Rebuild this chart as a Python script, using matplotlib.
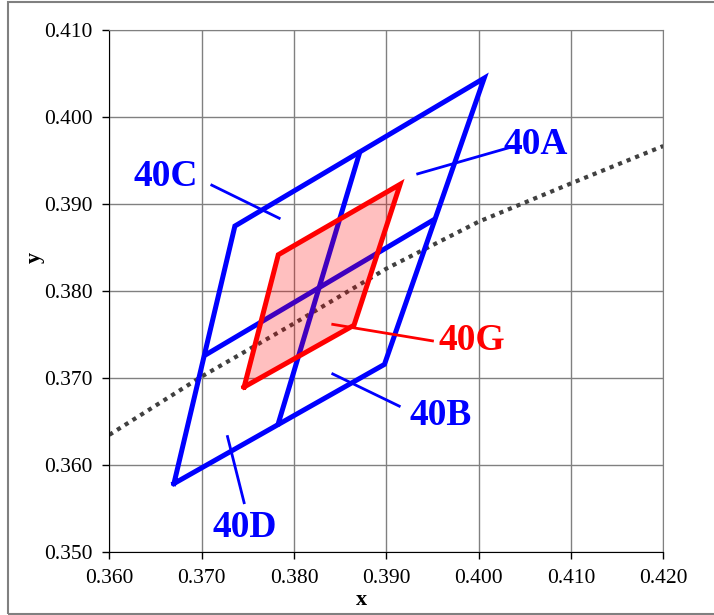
import matplotlib
matplotlib.use('Agg')
import matplotlib.pyplot as plt
import matplotlib.patches as mpatch
import numpy as np

plt.rcParams['font.family'] = ['Liberation Serif', 'DejaVu Serif']

# outer corners of the 40A..40D region (BL, BR, TR, TL)
outer_x = [0.3670, 0.3898, 0.4006, 0.3736]
outer_y = [0.3579, 0.3716, 0.4045, 0.3875]
# inner dividing lines
mid_v_x = [0.3783, 0.3871]
mid_v_y = [0.3648, 0.3959]
mid_h_x = [0.3706, 0.3951]
mid_h_y = [0.3728, 0.3882]

# 40G
red_x = [0.3746, 0.3865, 0.3915, 0.3783]
red_y = [0.3690, 0.3761, 0.3923, 0.3842]

# dotted curve
locus_x = [0.360, 0.370, 0.380, 0.390, 0.400, 0.410, 0.420]
locus_y = [0.3635, 0.3702, 0.3763, 0.3826, 0.3880, 0.3924, 0.3967]

# labels: name, text pos, leader start, leader end, colour
labels = [
    ('40C', (0.3661, 0.3932), (0.3711, 0.3922), (0.3784, 0.3884), 'blue'),
    ('40A', (0.4062, 0.3969), (0.3934, 0.3935), (0.4036, 0.3966), 'blue'),
    ('40G', (0.3993, 0.3743), (0.3842, 0.3762), (0.3950, 0.3743), 'red'),
    ('40B', (0.3959, 0.3657), (0.3842, 0.3705), (0.3914, 0.3668), 'blue'),
    ('40D', (0.3747, 0.3529), (0.3728, 0.3633), (0.3746, 0.3557), 'blue'),
]

fig = plt.figure(figsize=(7.14, 6.15), dpi=100)
ax = fig.add_axes([0.1531, 0.102, 0.7759, 0.8487])

# figure frame
fig.patches.append(mpatch.Rectangle((0.011, 0.002), 1.0, 0.995, transform=fig.transFigure,
                                    fill=False, edgecolor='#808080', linewidth=1.5))

ax.set_xlim(0.360, 0.420)
ax.set_ylim(0.350, 0.410)
ax.set_xticks(np.arange(0.360, 0.4201, 0.010))
ax.set_yticks(np.arange(0.350, 0.4101, 0.010))
ax.set_xticklabels(['%.3f' % v for v in ax.get_xticks()])
ax.set_yticklabels(['%.3f' % v for v in ax.get_yticks()])
ax.tick_params(labelsize=15.5, direction='out', length=5, width=1, colors='black', pad=7)
ax.grid(True, color='#808080', linewidth=1)
ax.set_axisbelow(True)
for s in ['top', 'right']:
    ax.spines[s].set_color('#808080')
for s in ['left', 'bottom']:
    ax.spines[s].set_color('black')
ax.set_xlabel('x', fontsize=16, fontweight='bold', va='center')
ax.set_ylabel('y', fontsize=16, fontweight='bold', va='center')
ax.xaxis.set_label_coords(0.456, -0.091)
ax.yaxis.set_label_coords(-0.134, 0.564)

ax.plot(locus_x, locus_y, color='#404040', linestyle=(0, (1, 1.2)), linewidth=3, zorder=2)

ax.plot(outer_x + outer_x[:1], outer_y + outer_y[:1], color='blue', linewidth=3.6,
        solid_joinstyle='miter', zorder=3)
ax.plot(mid_v_x, mid_v_y, color='blue', linewidth=3.6, zorder=3)
ax.plot(mid_h_x, mid_h_y, color='blue', linewidth=3.6, zorder=3)

ax.fill(red_x, red_y, color='red', alpha=0.25, linewidth=0, zorder=4)
ax.plot(red_x + red_x[:1], red_y + red_y[:1], color='red', linewidth=3.6,
        solid_joinstyle='miter', zorder=5)

for name, pos, p0, p1, col in labels:
    ax.plot([p0[0], p1[0]], [p0[1], p1[1]], color=col, linewidth=2, zorder=6)
    ax.text(pos[0], pos[1], name, color=col, fontsize=27, fontweight='bold',
            ha='center', va='center', zorder=7)

fig.savefig('out.png', dpi=100)
